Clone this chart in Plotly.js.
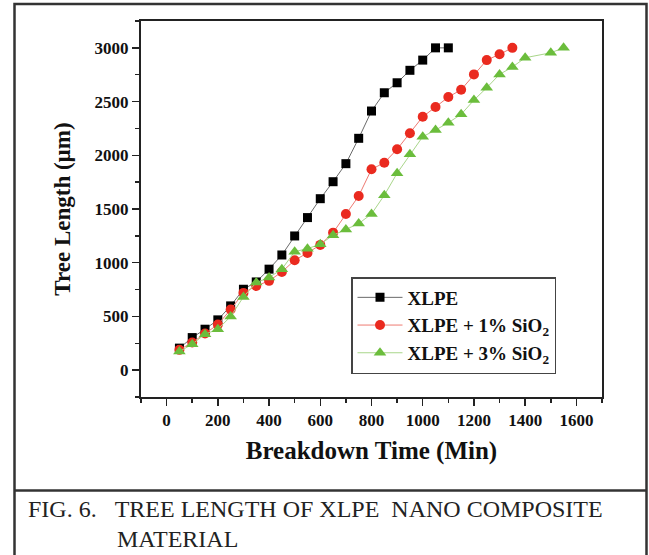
<!DOCTYPE html>
<html>
<head>
<meta charset="utf-8">
<script src="https://cdn.plot.ly/plotly-3.0.1.min.js"></script>
<style>
html,body{margin:0;padding:0;background:#fff;}
#chart{width:649px;height:555px;}
</style>
</head>
<body>
<div id="chart"></div>
<script>
// Data
const xlpeX = [50,100,150,200,250,300,350,400,450,500,550,600,650,700,750,800,850,900,950,1000,1050,1100];
const xlpeY = [205,303,381,468,598,753,821,940,1072,1249,1420,1596,1754,1922,2158,2412,2582,2675,2791,2886,3000,3000];

const sio1X = [50,100,150,200,250,300,350,400,450,500,550,600,650,700,750,800,850,900,950,1000,1050,1100,1150,1200,1250,1300,1350];
const sio1Y = [189,257,341,424,564,719,784,831,914,1023,1091,1166,1280,1454,1621,1870,1931,2056,2205,2359,2449,2542,2610,2753,2886,2940,3000];

const sio3X = [50,100,150,200,250,300,350,400,450,500,550,600,650,700,750,800,850,900,950,1000,1050,1100,1150,1200,1250,1300,1350,1400,1500,1550];
const sio3Y = [173,242,335,381,499,682,815,862,940,1103,1131,1172,1256,1310,1364,1454,1628,1833,2009,2173,2235,2303,2381,2514,2629,2753,2821,2908,2954,3000];

const seriesNames = ['XLPE', 'XLPE + 1% SiO<sub>2</sub>', 'XLPE + 3% SiO<sub>2</sub>'];
const xTitle = 'Breakdown Time (Min)';
const yTitle = 'Tree Length (\u00b5m)';
const captionLine1 = 'FIG. 6.\u00a0\u00a0\u00a0TREE LENGTH OF XLPE\u00a0\u00a0NANO COMPOSITE';
const captionLine2 = 'MATERIAL';

const serif = 'Liberation Serif, Times New Roman, serif';

const traces = [
  {x: xlpeX, y: xlpeY, name: seriesNames[0], type: 'scatter', mode: 'lines+markers',
   line: {color: '#6a6a6a', width: 1}, marker: {symbol: 'square', size: 9, color: '#000000'}},
  {x: sio1X, y: sio1Y, name: seriesNames[1], type: 'scatter', mode: 'lines+markers',
   line: {color: '#ee7a72', width: 1}, marker: {symbol: 'circle', size: 10, color: '#ea2a1f'}},
  {x: sio3X, y: sio3Y, name: seriesNames[2], type: 'scatter', mode: 'lines+markers',
   line: {color: '#a9d68a', width: 1}, marker: {symbol: 'triangle-up', size: 11, color: '#6bbd3c'}}
];

const L = 141, R = 602, T = 21, B = 397, W = 649, H = 555;
const pw = R - L, ph = B - T;
const px = v => (v - L) / pw;
const py = v => (B - v) / ph;

const layout = {
  width: W, height: H,
  margin: {l: L, r: W - R, t: T, b: H - B, pad: 0},
  paper_bgcolor: '#ffffff', plot_bgcolor: '#ffffff',
  showlegend: true,
  font: {family: serif, color: '#111'},
  xaxis: {
    range: [-100, 1700], dtick: 200, tick0: 0,
    showgrid: false, zeroline: false,
    showline: true, linecolor: '#222', linewidth: 2, mirror: true,
    ticks: 'outside', ticklen: 7, tickwidth: 1.5, tickcolor: '#222',
    minor: {dtick: 100, ticks: 'outside', ticklen: 4, tickwidth: 1.5, tickcolor: '#222'},
    tickfont: {family: serif, size: 17, weight: 'bold', color: '#111'},
    title: {text: '<b>' + xTitle + '</b>', font: {family: serif, size: 25, color: '#111'}, standoff: 12}
  },
  yaxis: {
    range: [-250, 3250], dtick: 500, tick0: 0,
    showgrid: false, zeroline: false,
    showline: true, linecolor: '#222', linewidth: 2, mirror: true,
    ticks: 'outside', ticklen: 7, tickwidth: 1.5, tickcolor: '#222',
    minor: {dtick: 250, ticks: 'outside', ticklen: 4, tickwidth: 1.5, tickcolor: '#222'},
    tickfont: {family: serif, size: 17, weight: 'bold', color: '#111'},
    title: {text: '<b>' + yTitle + '</b>', font: {family: serif, size: 23, color: '#111'}, standoff: 18}
  },
  legend: {
    x: px(351), y: py(277), xanchor: 'left', yanchor: 'top',
    bgcolor: '#ffffff', bordercolor: '#444', borderwidth: 1.5,
    font: {family: serif, size: 19, weight: 'bold', color: '#111'},
    tracegroupgap: 0, itemwidth: 45
  },
  shapes: [
    {type: 'rect', xref: 'paper', yref: 'paper', x0: px(14.5), x1: px(646.5), y0: py(600), y1: py(4),
     line: {color: '#333', width: 2.5}},
    {type: 'line', xref: 'paper', yref: 'paper', x0: px(14.5), x1: px(646.5), y0: py(490.5), y1: py(490.5),
     line: {color: '#333', width: 2.5}}
  ],
  annotations: [
    {xref: 'paper', yref: 'paper', x: px(26), y: py(509), xanchor: 'left', yanchor: 'middle',
     text: captionLine1, showarrow: false, font: {family: serif, size: 24, color: '#222'}},
    {xref: 'paper', yref: 'paper', x: px(115), y: py(539), xanchor: 'left', yanchor: 'middle',
     text: captionLine2, showarrow: false, font: {family: serif, size: 24, color: '#222'}}
  ]
};

Plotly.newPlot('chart', traces, layout, {displayModeBar: false, staticPlot: true});
</script>
</body>
</html>
